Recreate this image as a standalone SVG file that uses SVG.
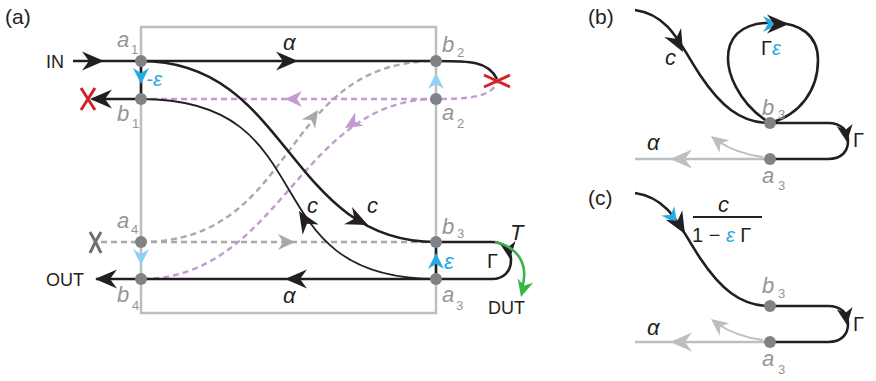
<svg xmlns="http://www.w3.org/2000/svg" width="876" height="381" viewBox="0 0 876 381">
<style>
.t{font-family:"Liberation Sans",Arial,sans-serif;fill:#231f20}
.it{font-family:"Liberation Sans",Arial,sans-serif;font-style:italic;font-size:22px;fill:#231f20}
.lbl{font-family:"Liberation Sans",Arial,sans-serif;font-style:italic;font-size:22px;fill:#939598}
.sub{font-family:"Liberation Sans",Arial,sans-serif;font-size:13px;fill:#939598}
.cy{fill:#27aae1}
.node{fill:#808285}
.k{fill:none;stroke:#231f20;stroke-width:2.6}
.kt{fill:none;stroke:#231f20;stroke-width:1.8}
.gd{fill:none;stroke:#a7a9ac;stroke-width:2.4;stroke-dasharray:6 4}
.pd{fill:none;stroke:#c49bd0;stroke-width:2.4;stroke-dasharray:6 4}
.lg{fill:none;stroke:#bcbec0;stroke-width:2.6}
.box{fill:none;stroke:#bcbec0;stroke-width:2.5}
.xr{fill:none;stroke:#d2232a;stroke-width:3}
.xg{fill:none;stroke:#6d6e71;stroke-width:3}
</style>
<defs>
<path id="ah" d="M0,0 L-22,-9.5 L-15,0 L-22,9.5 Z"/>
<path id="ahs" d="M0,0 L-17,-8 L-12,0 L-17,8 Z"/>
<path id="ahc" d="M0,0 L-16,-8 L-11,0 L-16,8 Z"/>
</defs>

<!-- panel labels -->
<text class="t" x="5" y="24" font-size="21">(a)</text>
<text class="t" x="588" y="24" font-size="21">(b)</text>
<text class="t" x="588" y="205" font-size="21">(c)</text>

<!-- box -->
<rect class="box" x="141" y="27" width="295" height="286"/>

<g id="connectors">
  <!-- panel a dashed -->
  <path class="pd" d="M141,99 L436,99 C470,99 490,97 497,83"/>
  <path class="pd" d="M436,99 C300,99 280,279 141,279"/>
  <path class="gd" d="M101,242 L436,242"/>
  <path class="gd" d="M141,242 C300,242 277,61 436,61"/>
  <use href="#ahs" fill="#c49bd0" transform="translate(285,99) rotate(180)"/>
  <use href="#ahs" fill="#c49bd0" transform="translate(345,128) rotate(148)"/>
  <use href="#ahs" fill="#a7a9ac" transform="translate(318,110) rotate(-56)"/>
  <use href="#ahs" fill="#a7a9ac" transform="translate(295,242)"/>
  <!-- black lines -->
  <path class="k" d="M73,61 L436,61 C470,61 488,61 497,79"/>
  <path class="k" d="M141,61 L141,99 L92,99"/>
  <path class="k" d="M141,61 C290,61 287,242 436,242"/>
  <path class="kt" d="M141,99 C330,99 247,279 436,279"/>
  <path class="k" d="M436,242 L492,242 C504,242 511,250 511,260 C511,271 504,279 492,279 L436,279 L96,279"/>
  <path class="k" d="M436,242 L436,279"/>
  <use href="#ah" fill="#231f20" transform="translate(104,61)"/>
  <use href="#ah" fill="#231f20" transform="translate(298,61)"/>
  <use href="#ah" fill="#231f20" transform="translate(90,99) rotate(180)"/>
  <use href="#ah" fill="#231f20" transform="translate(285,279) rotate(180)"/>
  <use href="#ah" fill="#231f20" transform="translate(95,279) rotate(180)"/>
  <use href="#ah" fill="#231f20" transform="translate(368,225) rotate(25)"/>
  <use href="#ah" fill="#231f20" transform="translate(299,211) rotate(-122)"/>
  <use href="#ahs" fill="#231f20" transform="translate(510,259) rotate(82)"/>
  <!-- green -->
  <path fill="none" stroke="#39b54a" stroke-width="2.6" d="M495,242 C515,246 530,262 522,288"/>
  <use href="#ahs" fill="#39b54a" transform="translate(521,297) rotate(105)"/>
  <!-- cyan arrows -->
  <use href="#ahc" fill="#27aae1" transform="translate(141,84) rotate(90)"/>
  <use href="#ahc" fill="#8fd3f2" transform="translate(436,73) rotate(-90)"/>
  <use href="#ahc" fill="#8fd3f2" transform="translate(141,265) rotate(90)"/>
  <use href="#ahc" fill="#27aae1" transform="translate(436,253) rotate(-90)"/>
  <!-- X marks -->
  <path class="xr" d="M81,88 Q88,99 95,110 M95,88 Q88,99 81,110"/>
  <path class="xr" d="M484,75 Q497,81 510,87 M484,87 Q497,81 510,75"/>
  <path class="xg" d="M90,232 Q96,242 101,253 M101,232 Q95,242 90,253"/>

  <!-- panel b -->
  <path class="lg" d="M770,159 L635,159"/>
  <path fill="none" stroke="#bcbec0" stroke-width="2" d="M763,157 Q737,154 716,140"/>
  <use href="#ah" fill="#bcbec0" transform="translate(670,159) rotate(180)"/>
  <use href="#ahs" fill="#bcbec0" transform="translate(711,136) rotate(-142)"/>
  <path class="k" d="M635,10 C670,15 680,45 700,75 S740,123 770,123"/>
  <path class="k" d="M770,123 C740,105 722,70 730,45 C737,25 760,22 775,23 C800,23 818,35 818,60 C818,90 800,115 770,123"/>
  <path class="k" d="M770,123 L828,123 C842,123 848,131 848,141 C848,151 842,159 828,159 L770,159"/>
  <use href="#ah" fill="#231f20" transform="translate(683,52) rotate(62)"/>
  <use href="#ahc" fill="#27aae1" transform="translate(779,24)"/>
  <use href="#ah" fill="#231f20" transform="translate(789,24)"/>
  <use href="#ahs" fill="#231f20" transform="translate(847,142) rotate(82)"/>

  <!-- panel c -->
  <path class="lg" d="M770,342 L635,342"/>
  <path fill="none" stroke="#bcbec0" stroke-width="2" d="M763,340 Q737,337 716,323"/>
  <use href="#ah" fill="#bcbec0" transform="translate(670,342) rotate(180)"/>
  <use href="#ahs" fill="#bcbec0" transform="translate(711,319) rotate(-142)"/>
  <path class="k" d="M635,193 C670,198 680,228 700,258 S740,306 770,306"/>
  <path class="k" d="M770,306 L828,306 C842,306 848,314 848,324 C848,334 842,342 828,342 L770,342"/>
  <use href="#ahc" fill="#27aae1" transform="translate(677,224) rotate(55)"/>
  <use href="#ah" fill="#231f20" transform="translate(685,234) rotate(60)"/>
  <use href="#ahs" fill="#231f20" transform="translate(847,325) rotate(82)"/>
  <path stroke="#231f20" stroke-width="2" d="M693,217 L762,217"/>
</g>

<!-- connector labels -->
<g id="labels">
  <text class="it" x="283" y="50">α</text>
  <text class="it" x="283" y="303">α</text>
  <text class="it" x="307" y="213">c</text>
  <text class="it" x="367" y="213">c</text>
  <text class="t cy" x="146" y="86" font-size="21" font-style="italic">-ε</text>
  <text class="t cy" x="444" y="269" font-size="22" font-style="italic">ε</text>
  <text class="it" x="510" y="240" font-size="20">T</text>
  <text class="t" x="487" y="268" font-size="20">Γ</text>
  <text class="it" x="665" y="65">c</text>
  <text class="t" x="761" y="55" font-size="20">Γ<tspan class="cy" font-style="italic">ε</tspan></text>
  <text class="t" x="853" y="147" font-size="20">Γ</text>
  <text class="it" x="647" y="150">α</text>
  <text class="it" x="718" y="212">c</text>
  <text class="t" x="692" y="242" font-size="20">1 − <tspan class="cy" font-style="italic">ε</tspan> Γ</text>
  <text class="t" x="853" y="331" font-size="20">Γ</text>
  <text class="it" x="647" y="335">α</text>
</g>

<g id="IN"><text class="t" x="46" y="68" font-size="18">IN</text></g>
<g id="OUT"><text class="t" x="46" y="286" font-size="18">OUT</text></g>
<g id="DUT"><text class="t" x="488" y="314" font-size="18">DUT</text></g>

<g id="a1"><circle class="node" cx="141" cy="61" r="6"/><text class="lbl" x="117" y="47">a</text><text class="sub" x="131" y="54">1</text></g>
<g id="b1"><circle class="node" cx="141" cy="99" r="6"/><text class="lbl" x="117" y="121">b</text><text class="sub" x="132" y="128">1</text></g>
<g id="b2"><circle class="node" cx="436" cy="61" r="6"/><text class="lbl" x="442" y="52">b</text><text class="sub" x="457" y="57">2</text></g>
<g id="a2"><circle class="node" cx="436" cy="99" r="6"/><text class="lbl" x="442" y="120">a</text><text class="sub" x="457" y="128">2</text></g>
<g id="a4"><circle class="node" cx="141" cy="242" r="6"/><text class="lbl" x="117" y="228">a</text><text class="sub" x="131" y="234">4</text></g>
<g id="b4"><circle class="node" cx="141" cy="279" r="6"/><text class="lbl" x="117" y="302">b</text><text class="sub" x="132" y="310">4</text></g>
<g id="b3"><circle class="node" cx="436" cy="242" r="6"/><text class="lbl" x="442" y="234">b</text><text class="sub" x="457" y="238">3</text></g>
<g id="a3"><circle class="node" cx="436" cy="279" r="6"/><text class="lbl" x="442" y="302">a</text><text class="sub" x="456" y="310">3</text></g>

<g id="b3-b"><circle class="node" cx="770" cy="123" r="6"/><text class="lbl" x="762" y="115">b</text><text class="sub" x="778" y="119">3</text></g>
<g id="a3-b"><circle class="node" cx="770" cy="159" r="6"/><text class="lbl" x="762" y="183">a</text><text class="sub" x="778" y="190">3</text></g>
<g id="b3-c"><circle class="node" cx="770" cy="306" r="6"/><text class="lbl" x="762" y="293">b</text><text class="sub" x="778" y="298">3</text></g>
<g id="a3-c"><circle class="node" cx="770" cy="342" r="6"/><text class="lbl" x="762" y="366">a</text><text class="sub" x="778" y="374">3</text></g>
</svg>
